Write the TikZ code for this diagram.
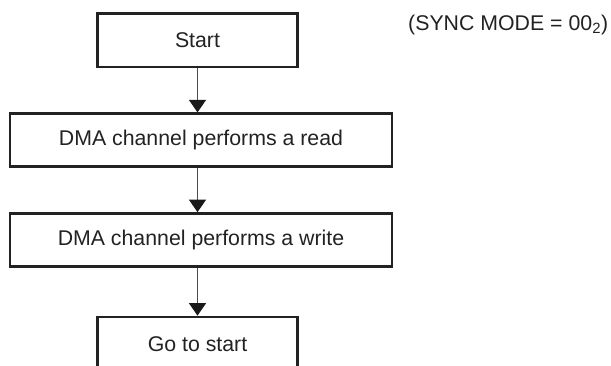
\documentclass[tikz,border=0pt]{standalone}
\usepackage{fontspec}
\setmainfont{Liberation Sans}
\usetikzlibrary{arrows.meta}
\definecolor{ink}{HTML}{222222}
\tikzset{
  flowbox/.style={draw=ink, line width=2.7pt, inner sep=0pt, align=center,
    text=ink, font=\fontsize{21.3}{25}\selectfont},
  shortbox/.style={flowbox, minimum width=200pt, minimum height=53.5pt},
  longbox/.style={flowbox, minimum width=382pt, minimum height=53pt},
  flowarrow/.style={draw=black!70, line width=0.9pt,
    -{Triangle[width=17pt,length=12.5pt,black!90]}}
}
\begin{document}
\begin{tikzpicture}[x=1pt,y=-1pt]
\useasboundingbox (0,0) rectangle (611,365);
\clip (0,0) rectangle (611,365);
\node[shortbox] (start) at (197.5,40.25) {Start};
\node[longbox] (read) at (201,140.25) {DMA channel performs a read};
\node[longbox] (write) at (201,240) {DMA channel performs a write};
\node[shortbox] (go) at (197.5,343.75) {Go to start};
\node[anchor=base west, inner sep=0pt, text=ink, font=\fontsize{21.3}{25}\selectfont] (mode) at (408,30) {(SYNC MODE = 00\textsubscript{2})};
\draw[flowarrow] (start.south) -- (start.south |- read.north);
\draw[flowarrow] (start.south |- read.south) -- (start.south |- write.north);
\draw[flowarrow] (start.south |- write.south) -- (go.north);
\end{tikzpicture}
\end{document}
